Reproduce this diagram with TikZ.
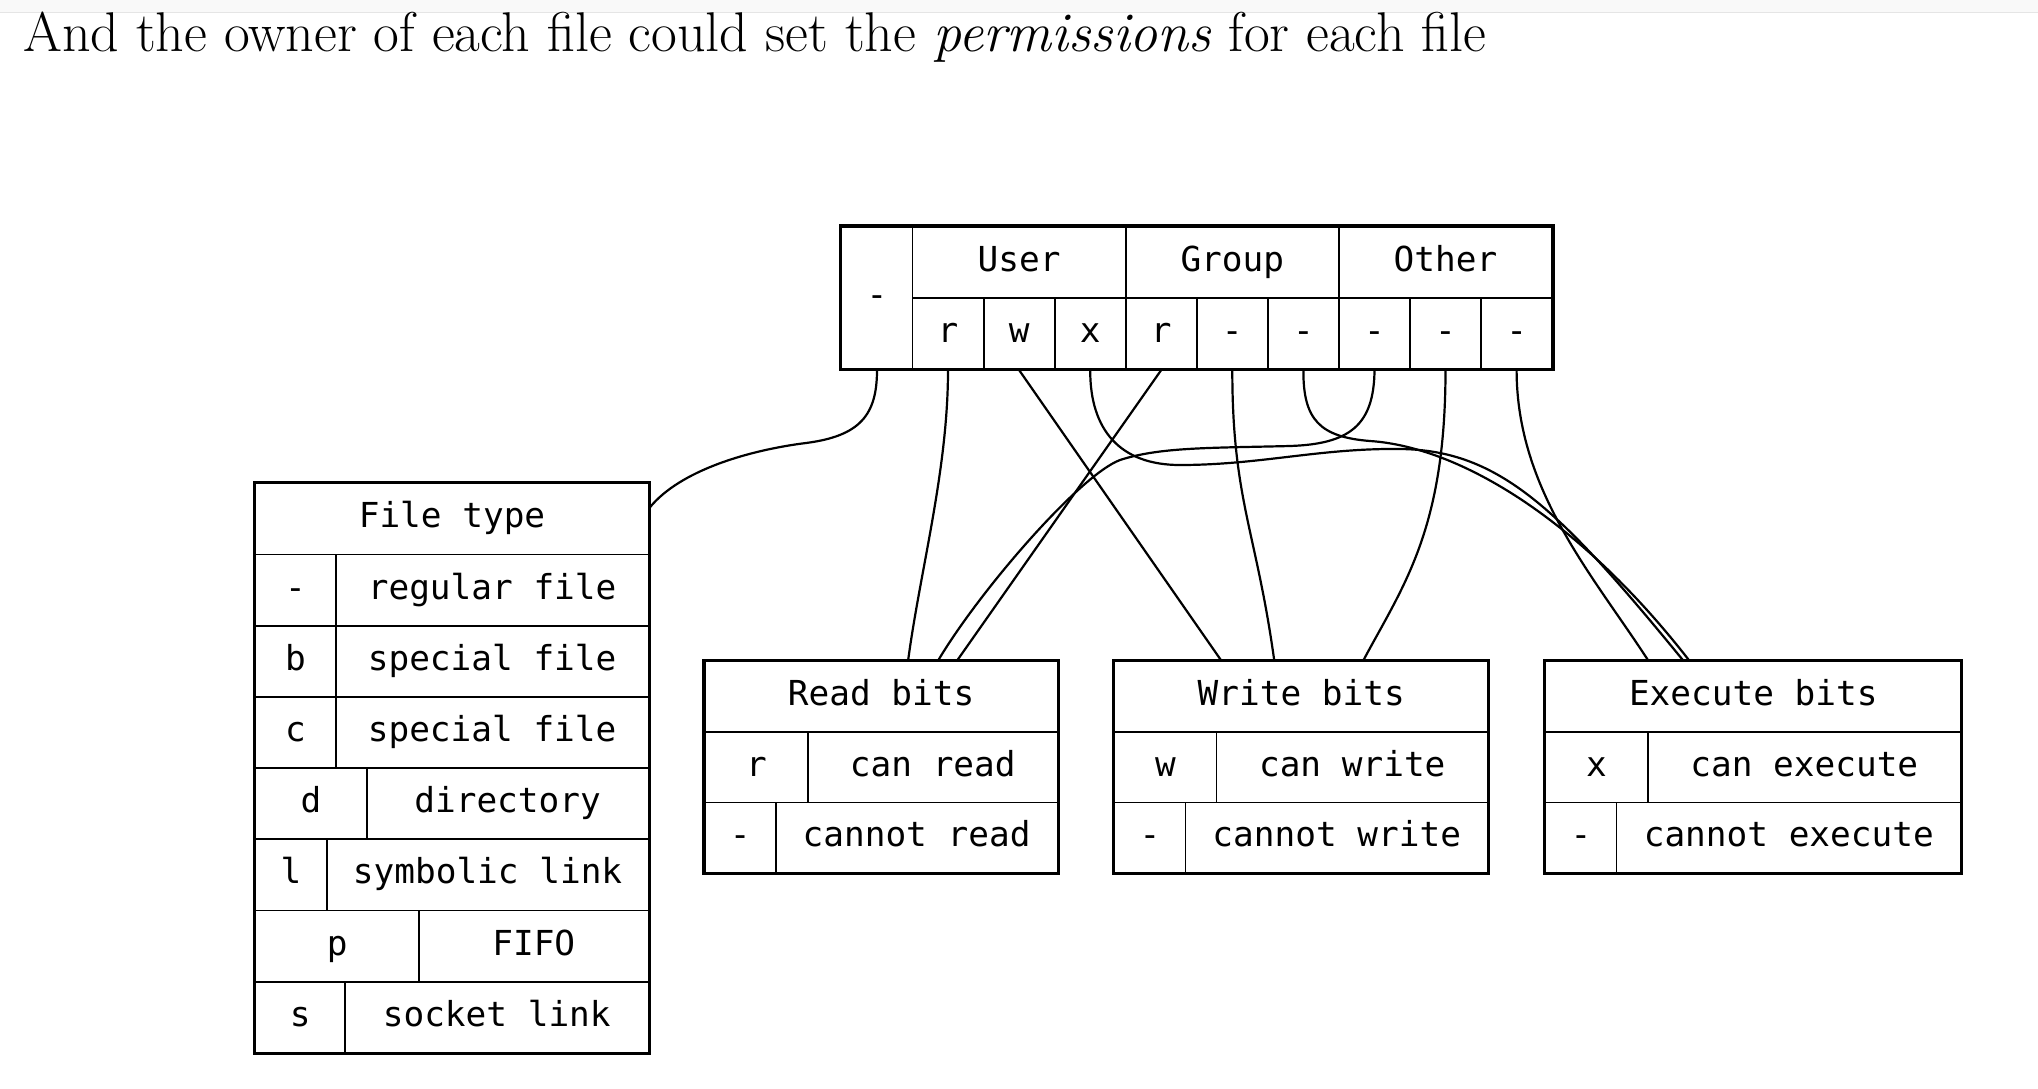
\documentclass[tikz,border=0pt]{standalone}
\usepackage{fontspec}
\usepackage{tikz}
\newfontfamily\monofam{DejaVu Sans Mono}
\newcommand{\mono}{\monofam\fontsize{34.4}{40}\selectfont}

\begin{document}
\begin{tikzpicture}[x=1pt, y=1pt,
  cell/.style={draw, line width=1.9pt, inner sep=0pt, minimum height=71.2pt,
    text height=26pt, text depth=8pt, font=\mono},
  bitcell/.style={cell, minimum height=70.5pt},
  outer/.style={line width=2.8pt},
  wire/.style={line width=2.2pt}]
\useasboundingbox (0,0) rectangle (2038,-1088);
\fill[white] (0,0) rectangle (2038,-1088);
\fill[gray!5] (0,0) rectangle (2038,-12);
\draw[gray!20, line width=1.5pt] (0,-12.5) -- (2038,-12.5);
\node[anchor=base west, inner sep=0pt, font=\fontsize{56}{66}\selectfont] (title) at (23,-51.7)
  {And the owner of each file could set the \textit{permissions} for each file};

% permission string
\node[cell, minimum width=71pt, minimum height=142.4pt] (tp) at (877,-297.9) {-};
\node[cell, minimum width=213.2pt] (usr) at (1019.1,-262.3) {User};
\node[cell, minimum width=213.2pt] (grp) at (1232.3,-262.3) {Group};
\node[cell, minimum width=213.2pt] (oth) at (1445.5,-262.3) {Other};
\node[cell, minimum width=71.07pt] (bur) at (948.0,-333.5) {r};
\node[cell, minimum width=71.07pt] (buw) at (1019.1,-333.5) {w};
\node[cell, minimum width=71.07pt] (bux) at (1090.2,-333.5) {x};
\node[cell, minimum width=71.07pt] (bgr) at (1161.2,-333.5) {r};
\node[cell, minimum width=71.07pt] (bgw) at (1232.3,-333.5) {-};
\node[cell, minimum width=71.07pt] (bgx) at (1303.4,-333.5) {-};
\node[cell, minimum width=71.07pt] (bor) at (1374.5,-333.5) {-};
\node[cell, minimum width=71.07pt] (bow) at (1445.5,-333.5) {-};
\node[cell, minimum width=71.07pt] (box) at (1516.6,-333.5) {-};
\draw[outer] (tp.north west) rectangle (box.south east);

% file type
\node[cell, minimum width=393pt] (ft) at (452,-518.9) {File type};
\node[cell, minimum width=80.2pt] (k1) at (295.6,-590.1) {-};
\node[cell, minimum width=312.8pt] (v1) at (492.1,-590.1) {regular file};
\node[cell, minimum width=80.2pt] (k2) at (295.6,-661.3) {b};
\node[cell, minimum width=312.8pt] (v2) at (492.1,-661.3) {special file};
\node[cell, minimum width=80.2pt] (k3) at (295.6,-732.5) {c};
\node[cell, minimum width=312.8pt] (v3) at (492.1,-732.5) {special file};
\node[cell, minimum width=111.2pt] (k4) at (311.1,-803.7) {d};
\node[cell, minimum width=281.8pt] (v4) at (507.6,-803.7) {directory};
\node[cell, minimum width=71.2pt] (k5) at (291.1,-874.9) {l};
\node[cell, minimum width=321.8pt] (v5) at (487.6,-874.9) {symbolic link};
\node[cell, minimum width=163.5pt] (k6) at (337.25,-946.1) {p};
\node[cell, minimum width=229.5pt] (v6) at (533.75,-946.1) {FIFO};
\node[cell, minimum width=89.5pt] (k7) at (300.25,-1017.3) {s};
\node[cell, minimum width=303.5pt] (v7) at (496.75,-1017.3) {socket link};
\draw[outer] (ft.north west) rectangle (v7.south east);

% read bits
\node[bitcell, minimum width=352.8pt] (rdh) at (881.1,-696.75) {Read bits};
\node[bitcell, minimum width=103.3pt] (rk1) at (756.35,-767.25) {r};
\node[bitcell, minimum width=249.5pt] (rv1) at (932.75,-767.25) {can read};
\node[bitcell, minimum width=71pt] (rk2) at (740.2,-837.75) {-};
\node[bitcell, minimum width=281.8pt] (rv2) at (916.6,-837.75) {cannot read};
\draw[outer] (rdh.north west) rectangle (rv2.south east);

% write bits
\node[bitcell, minimum width=373.5pt] (wrh) at (1301.25,-696.75) {Write bits};
\node[bitcell, minimum width=102pt] (wk1) at (1165.5,-767.25) {w};
\node[bitcell, minimum width=271.5pt] (wv1) at (1352.25,-767.25) {can write};
\node[bitcell, minimum width=71pt] (wk2) at (1150,-837.75) {-};
\node[bitcell, minimum width=302.5pt] (wv2) at (1336.75,-837.75) {cannot write};
\draw[outer] (wrh.north west) rectangle (wv2.south east);

% execute bits
\node[bitcell, minimum width=415.5pt] (exh) at (1753.25,-696.75) {Execute bits};
\node[bitcell, minimum width=102.1pt] (xk1) at (1596.55,-767.25) {x};
\node[bitcell, minimum width=313.4pt] (xv1) at (1804.3,-767.25) {can execute};
\node[bitcell, minimum width=71pt] (xk2) at (1581,-837.75) {-};
\node[bitcell, minimum width=344.5pt] (xv2) at (1788.75,-837.75) {cannot execute};
\draw[outer] (exh.north west) rectangle (xv2.south east);

% wires
\draw[wire] (tp.south) .. controls (877,-415) and (860,-436) .. (806,-443)
  .. controls (750,-450) and (680,-470) .. ([yshift=11pt]ft.east);
\draw[wire] (bur.south) .. controls +(0,-100) and +(12,90) .. ([xshift=27pt]rdh.north);
\draw[wire] (buw.south) -- ([xshift=-80pt]wrh.north);
\draw[wire] (bux.south) .. controls (1090,-430) and (1120,-465) .. (1180,-465)
  .. controls (1260,-465) and (1320,-448) .. (1400,-449)
  .. controls (1500,-450) and (1560,-510) .. ([xshift=-70pt]exh.north);
\draw[wire] (bgr.south) -- ([xshift=76pt]rdh.north);
\draw[wire] (bgw.south) .. controls +(0,-130) and +(-18,130) .. ([xshift=-27pt]wrh.north);
\draw[wire] (bgx.south) .. controls (1303,-420) and (1320,-437) .. (1370,-441)
  .. controls (1460,-447) and (1580,-520) .. ([xshift=-64pt]exh.north);
\draw[wire] (bor.south) .. controls (1374,-425) and (1350,-444) .. (1290,-446)
  .. controls (1210,-448) and (1160,-447) .. (1120,-460)
  .. controls (1080,-475) and (980,-590) .. ([xshift=57pt]rdh.north);
\draw[wire] (bow.south) .. controls +(0,-160) and +(40,75) .. ([xshift=62pt]wrh.north);
\draw[wire] (box.south) .. controls +(0,-120) and +(-55,85) .. ([xshift=-105pt]exh.north);
\end{tikzpicture}
\end{document}
